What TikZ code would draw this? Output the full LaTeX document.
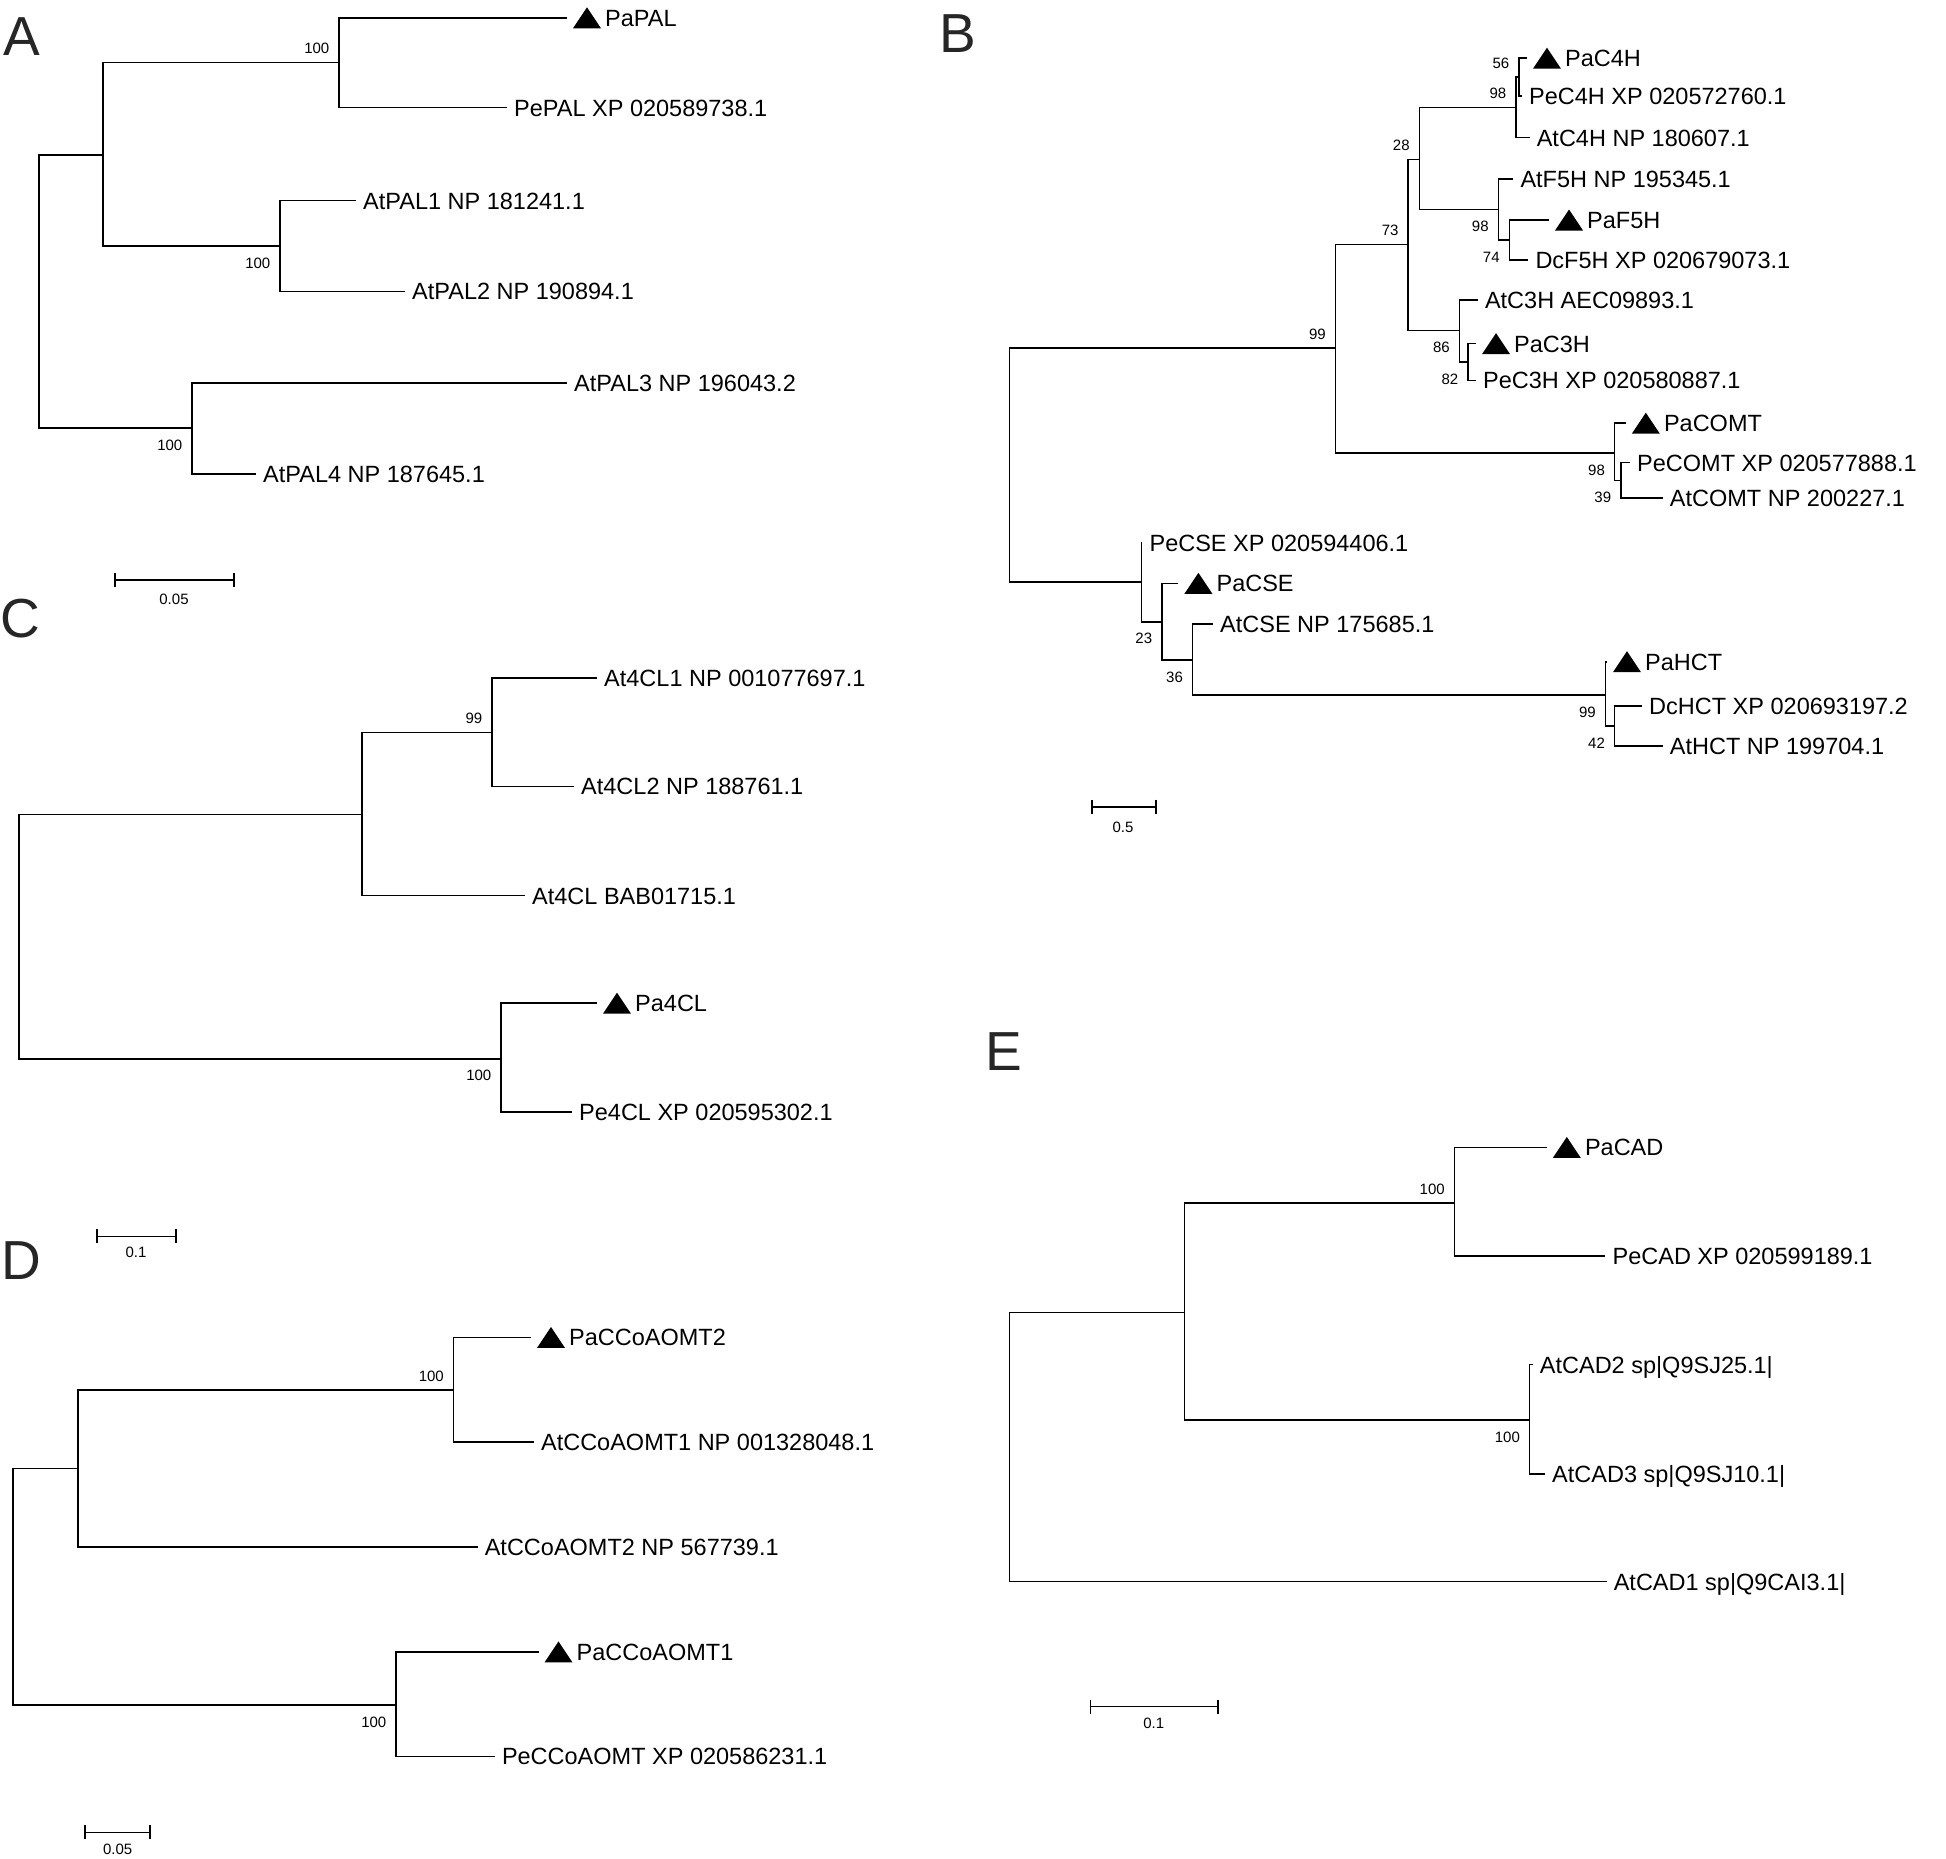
\documentclass[tikz,border=0pt]{standalone}
\usepackage{fontspec}
\setmainfont{Liberation Sans}
\usepackage{tikz}
\usetikzlibrary{positioning}
\usetikzlibrary{arrows.meta}

\newcommand{\leafsize}{\fontsize{23.5pt}{28pt}\selectfont}
\newcommand{\bootsize}{\fontsize{15pt}{18pt}\selectfont}
\newcommand{\panelsize}{\fontsize{55pt}{60pt}\selectfont}

\begin{document}
\begin{tikzpicture}[x=1pt, y=-1pt,
        branch/.style={draw=black, line width=1.6pt},
        leaf/.style={anchor=west, inner xsep=7pt, inner ysep=0pt, text height=17pt, text depth=0pt, font=\leafsize},
        tri/.style={anchor=west, inner sep=0pt, minimum width=28pt, minimum height=21pt, outer xsep=6pt,
          path picture={\fill (path picture bounding box.south west) -- (path picture bounding box.south east) -- (path picture bounding box.north) -- cycle;}},
        boot/.style={inner sep=0pt, text height=11pt, text depth=0pt, font=\bootsize},
        up/.style={above left=8.5pt and 9.5pt of #1},
        down/.style={below left=11pt and 9.5pt of #1},
        panel/.style={inner sep=0pt, text height=40pt, text depth=0pt, font=\panelsize, text=black!85},
        scalebar/.style={line width=1.6pt, {Bar[width=14pt]}-{Bar[width=14pt]}}
      ]
        \useasboundingbox[fill=white] (0,0) rectangle (1946,1858);

        % A: PAL
        \node[panel]  (pa)   at (22,35)  {A};
        \coordinate (a0) at (39,291.5);
        \coordinate (a1) at (103,155);
        \coordinate (a2) at (339,62.5);
        \coordinate (a3) at (280,246);
        \coordinate (a4) at (192,428);
        \node[tri]  (tpapal)   at (567,17.8)  {};
        \node[leaf] (papal)    [right=-9pt of tpapal]  {PaPAL};
        \node[leaf] (pepal)    at (507,107.5) {PePAL XP 020589738.1};
        \node[leaf] (atpal1)   at (356,200.5) {AtPAL1 NP 181241.1};
        \node[leaf] (atpal2)   at (405,291.4) {AtPAL2 NP 190894.1};
        \node[leaf] (atpal3)   at (567,382.7) {AtPAL3 NP 196043.2};
        \node[leaf] (atpal4)   at (256,473.7) {AtPAL4 NP 187645.1};
        \draw[branch] (a0) |- (a1)  (a0) |- (a4)
          (a1) |- (a2)  (a1) |- (a3)
          (a2) |- (tpapal.west)  (a2) |- (pepal.west)
          (a3) |- (atpal1.west)  (a3) |- (atpal2.west)
          (a4) |- (atpal3.west)  (a4) |- (atpal4.west);
        \node[boot, up=a2]   (ba2) {100};
        \node[boot, down=a3] (ba3) {100};
        \node[boot, down=a4] (ba4) {100};
        \draw[scalebar] (114,580) -- (235,580);
        \node[boot] (sa) at (174,599) {0.05};

        % B: C4H, F5H, C3H, COMT, CSE, HCT
        \node[panel]  (pb)   at (958,32)  {B};
        \coordinate (b0)  at (1009.6,464.4);
        \coordinate (b1)  at (1335.5,348);
        \coordinate (b2)  at (1408.2,244.6);
        \coordinate (b3)  at (1419.3,159.6);
        \coordinate (b4)  at (1516,107.5);
        \coordinate (b5)  at (1519,77);
        \coordinate (b6)  at (1498.3,209.5);
        \coordinate (b7)  at (1509.3,240);
        \coordinate (b8)  at (1459.4,330.4);
        \coordinate (b9)  at (1468,362);
        \coordinate (b10) at (1614.6,452.9);
        \coordinate (b11) at (1620.8,480.4);
        \coordinate (b12) at (1141.4,581.7);
        \coordinate (b13) at (1161.8,621.7);
        \coordinate (b14) at (1192.6,660);
        \coordinate (b15) at (1605.4,695);
        \coordinate (b16) at (1614.6,725.8);
        \node[tri]  (tpac4h)   at (1527,58.2)   {};
        \node[leaf] (pac4h)    [right=-9pt of tpac4h]  {PaC4H};
        \node[leaf] (pec4h)    at (1522,95.7)   {PeC4H XP 020572760.1};
        \node[leaf] (atc4h)    at (1529.6,137.5) {AtC4H NP 180607.1};
        \node[leaf] (atf5h)    at (1513.3,179)  {AtF5H NP 195345.1};
        \node[tri]  (tpaf5h)   at (1549,220)    {};
        \node[leaf] (paf5h)    [right=-9pt of tpaf5h]  {PaF5H};
        \node[leaf] (dcf5h)    at (1528.3,260)  {DcF5H XP 020679073.1};
        \node[leaf] (atc3h)    at (1477.8,300)  {AtC3H AEC09893.1};
        \node[tri]  (tpac3h)   at (1476,343.6)  {};
        \node[leaf] (pac3h)    [right=-9pt of tpac3h]  {PaC3H};
        \node[leaf] (pec3h)    at (1476,380.4)  {PeC3H XP 020580887.1};
        \node[tri]  (tpacomt)  at (1625.8,423.2) {};
        \node[leaf] (pacomt)   [right=-9pt of tpacomt] {PaCOMT};
        \node[leaf] (pecomt)   at (1630,462.5)  {PeCOMT XP 020577888.1};
        \node[leaf] (atcomt)   at (1662.7,498.2) {AtCOMT NP 200227.1};
        \node[leaf] (pecse)    at (1142.4,542.7) {PeCSE XP 020594406.1};
        \node[tri]  (tpacse)   at (1178.4,583.3) {};
        \node[leaf] (pacse)    [right=-9pt of tpacse]  {PaCSE};
        \node[leaf] (atcse)    at (1213,624)    {AtCSE NP 175685.1};
        \node[tri]  (tpahct)   at (1607,661.7)  {};
        \node[leaf] (pahct)    [right=-9pt of tpahct]  {PaHCT};
        \node[leaf] (dchct)    at (1642,705.7)  {DcHCT XP 020693197.2};
        \node[leaf] (athct)    at (1662.7,746)  {AtHCT NP 199704.1};
        \draw[branch] (b0) |- (b1)  (b0) |- (b12)
          (b1) |- (b2)  (b1) |- (b10)
          (b2) |- (b3)  (b2) |- (b8)
          (b3) |- (b4)  (b3) |- (b6)
          (b4) |- (b5)  (b4) |- (atc4h.west)
          (b5) |- (tpac4h.west)  (b5) |- (pec4h.west)
          (b6) |- (atf5h.west)  (b6) |- (b7)
          (b7) |- (tpaf5h.west)  (b7) |- (dcf5h.west)
          (b8) |- (atc3h.west)  (b8) |- (b9)
          (b9) |- (tpac3h.west)  (b9) |- (pec3h.west)
          (b10) |- (tpacomt.west)  (b10) |- (b11)
          (b11) |- (pecomt.west)  (b11) |- (atcomt.west)
          (b12) |- (pecse.west)  (b12) |- (b13)
          (b13) |- (tpacse.west)  (b13) |- (b14)
          (b14) |- (atcse.west)  (b14) |- (b15)
          (b15) |- (tpahct.west)  (b15) |- (b16)
          (b16) |- (dchct.west)  (b16) |- (athct.west);
        \node[boot, up=b1]     (bb1)  {99};
        \node[boot, up=b2]     (bb2)  {73};
        \node[boot, up=b3]     (bb3)  {28};
        \node[boot, up=b4]     (bb4)  {98};
        \node[boot, up=b5]     (bb5)  {56};
        \node[boot, down=b6]   (bb6)  {98};
        \node[boot, down=b7]   (bb7)  {74};
        \node[boot, down=b8]   (bb8)  {86};
        \node[boot, down=b9]   (bb9)  {82};
        \node[boot, down=b10]  (bb10) {98};
        \node[boot, down=b11]  (bb11) {39};
        \node[boot, down=b13]  (bb13) {23};
        \node[boot, down=b14]  (bb14) {36};
        \node[boot, down=b15]  (bb15) {99};
        \node[boot, down=b16]  (bb16) {42};
        \draw[scalebar] (1091,806.7) -- (1156.8,806.7);
        \node[boot] (sb) at (1123,826.7) {0.5};

        % C: 4CL
        \node[panel]  (pc)   at (20,617)  {C};
        \coordinate (c0) at (19,936.65);
        \coordinate (c1) at (361.7,814.6);
        \coordinate (c2) at (492,732.6);
        \coordinate (c3) at (501,1058.7);
        \node[leaf] (at4cl1)   at (597,677.9)   {At4CL1 NP 001077697.1};
        \node[leaf] (at4cl2)   at (574,786.4)   {At4CL2 NP 188761.1};
        \node[leaf] (at4cl)    at (525,895.5)   {At4CL BAB01715.1};
        \node[tri]  (tpa4cl)   at (597,1003.2)  {};
        \node[leaf] (pa4cl)    [right=-9pt of tpa4cl]  {Pa4CL};
        \node[leaf] (pe4cl)    at (572,1112.2)  {Pe4CL XP 020595302.1};
        \draw[branch] (c0) |- (c1)  (c0) |- (c3)
          (c1) |- (c2)  (c1) |- (at4cl.west)
          (c2) |- (at4cl1.west)  (c2) |- (at4cl2.west)
          (c3) |- (tpa4cl.west)  (c3) |- (pe4cl.west);
        \node[boot, up=c2]   (bc2) {99};
        \node[boot, down=c3] (bc3) {100};
        \draw[scalebar] (96.4,1236.4) -- (176.8,1236.4);
        \node[boot] (sc) at (136,1252) {0.1};

        % D: CCoAOMT
        \node[panel]  (pd)   at (21,1259)  {D};
        \coordinate (d0) at (13.2,1586.85);
        \coordinate (d1) at (78,1468.6);
        \coordinate (d2) at (453.5,1390.2);
        \coordinate (d3) at (396,1705.1);
        \node[tri]  (tpaccoaomt2) at (531,1337.4) {};
        \node[leaf] (paccoaomt2)  [right=-9pt of tpaccoaomt2] {PaCCoAOMT2};
        \node[leaf] (atccoaomt1)  at (533.9,1442.2) {AtCCoAOMT1 NP 001328048.1};
        \node[leaf] (atccoaomt2)  at (477.6,1546.7) {AtCCoAOMT2 NP 567739.1};
        \node[tri]  (tpaccoaomt1) at (538.5,1651.9) {};
        \node[leaf] (paccoaomt1)  [right=-9pt of tpaccoaomt1] {PaCCoAOMT1};
        \node[leaf] (peccoaomt)   at (494.8,1756.4) {PeCCoAOMT XP 020586231.1};
        \draw[branch] (d0) |- (d1)  (d0) |- (d3)
          (d1) |- (d2)  (d1) |- (atccoaomt2.west)
          (d2) |- (tpaccoaomt2.west)  (d2) |- (atccoaomt1.west)
          (d3) |- (tpaccoaomt1.west)  (d3) |- (peccoaomt.west);
        \node[boot, up=d2]   (bd2) {100};
        \node[boot, down=d3] (bd3) {100};
        \draw[scalebar] (84.4,1832.4) -- (151,1832.4);
        \node[boot] (sd) at (117.7,1849) {0.05};

        % E: CAD
        \node[panel]  (pe)   at (1004,1050)  {E};
        \coordinate (e0) at (1009.6,1447.1);
        \coordinate (e1) at (1184.6,1312.6);
        \coordinate (e2) at (1454.4,1203.1);
        \coordinate (e3) at (1529.6,1420.2);
        \node[tri]  (tpacad)   at (1546.8,1147.4) {};
        \node[leaf] (pacad)    [right=-9pt of tpacad] {PaCAD};
        \node[leaf] (pecad)    at (1605.4,1256)   {PeCAD XP 020599189.1};
        \node[leaf] (atcad2)   at (1532.7,1364.5) {AtCAD2 sp|Q9SJ25.1|};
        \node[leaf] (atcad3)   at (1545,1474)     {AtCAD3 sp|Q9SJ10.1|};
        \node[leaf] (atcad1)   at (1606.6,1581.6) {AtCAD1 sp|Q9CAI3.1|};
        \draw[branch] (e0) |- (e1)  (e0) |- (atcad1.west)
          (e1) |- (e2)  (e1) |- (e3)
          (e2) |- (tpacad.west)  (e2) |- (pecad.west)
          (e3) |- (atcad2.west)  (e3) |- (atcad3.west);
        \node[boot, up=e2]   (be2) {100};
        \node[boot, down=e3] (be3) {100};
        \draw[scalebar] (1089.7,1706.6) -- (1219,1706.6);
        \node[boot] (se) at (1153.8,1723.2) {0.1};
      \end{tikzpicture}
\end{document}
